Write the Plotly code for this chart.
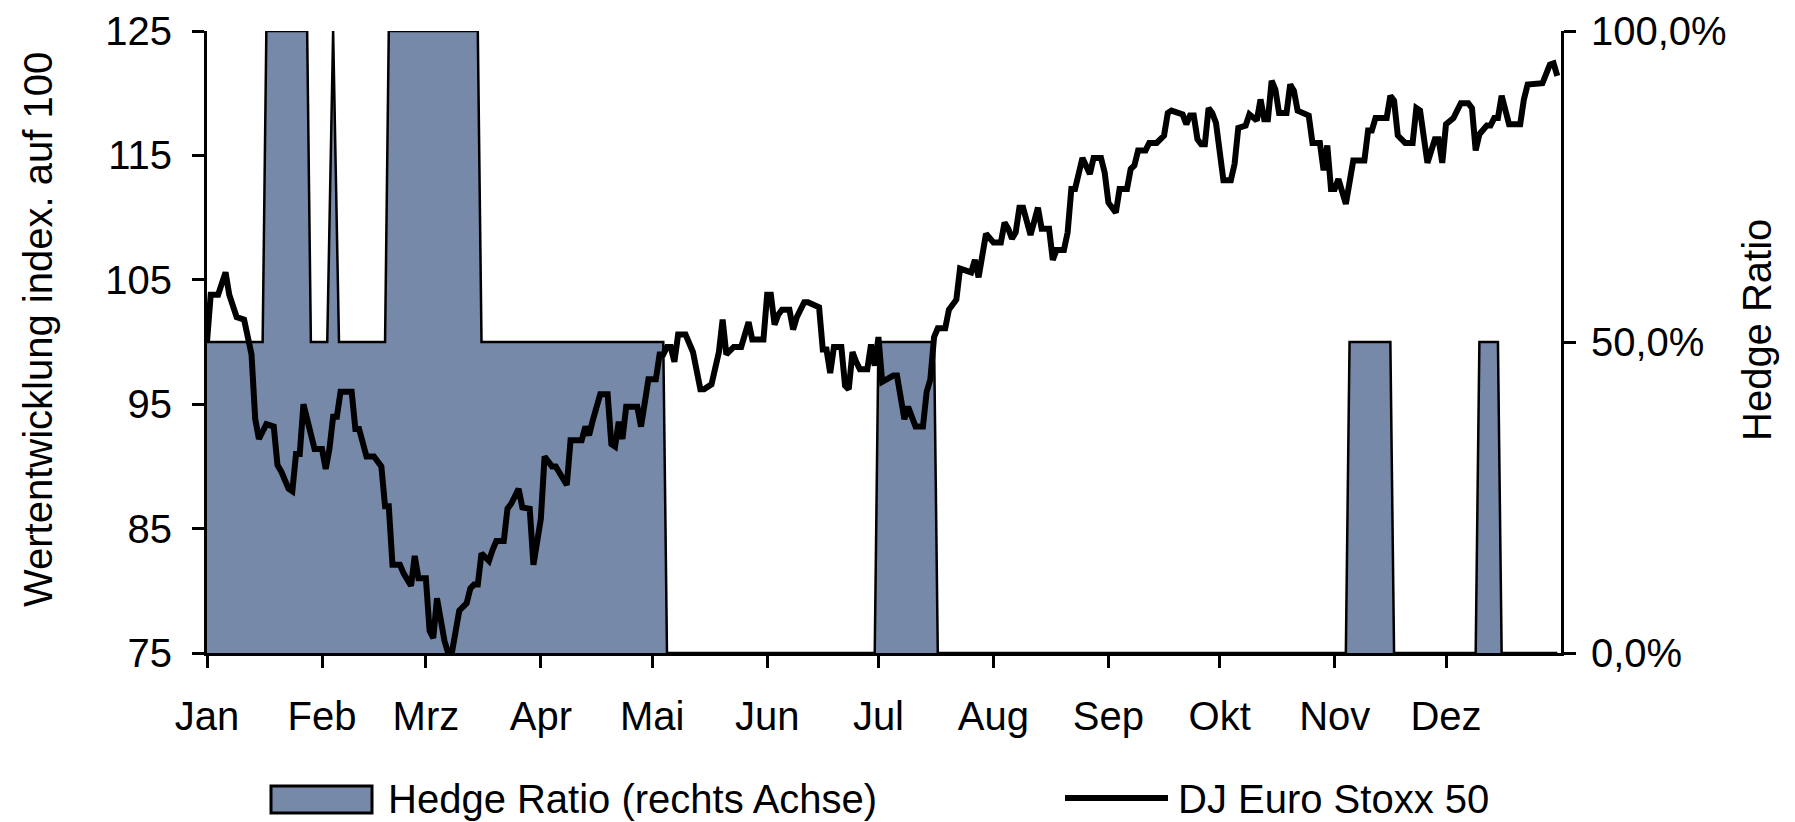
import plotly.graph_objects as go

# ---------------- data ----------------
month_ticks = ["2003-01-01", "2003-02-01", "2003-03-01", "2003-04-01", "2003-05-01", "2003-06-01",
               "2003-07-01", "2003-08-01", "2003-09-01", "2003-10-01", "2003-11-01", "2003-12-01"]
month_labels = ["Jan", "Feb", "Mrz", "Apr", "Mai", "Jun", "Jul", "Aug", "Sep", "Okt", "Nov", "Dez"]

hedge_dates = ["2003-01-01", "2003-01-16", "2003-01-17", "2003-01-28", "2003-01-29",
               "2003-02-02 10:00", "2003-02-04 00:00", "2003-02-05 14:00",
               "2003-02-18", "2003-02-19", "2003-03-15", "2003-03-16",
               "2003-05-04", "2003-05-05", "2003-06-30", "2003-07-01", "2003-07-16", "2003-07-17",
               "2003-11-04", "2003-11-05", "2003-11-16", "2003-11-17",
               "2003-12-09", "2003-12-10", "2003-12-15", "2003-12-16", "2003-12-31"]
hedge_ratio = [0.5, 0.5, 1.0, 1.0, 0.5,
               0.5, 1.0, 0.5,
               0.5, 1.0, 1.0, 0.5,
               0.5, 0.0, 0.0, 0.5, 0.5, 0.0,
               0.0, 0.5, 0.5, 0.0,
               0.0, 0.5, 0.5, 0.0, 0.0]

stoxx_dates = [
    "2003-01-01", "2003-01-02", "2003-01-04", "2003-01-06", "2003-01-07", "2003-01-09", "2003-01-11",
    "2003-01-13", "2003-01-14", "2003-01-15", "2003-01-17", "2003-01-19", "2003-01-20", "2003-01-21",
    "2003-01-23", "2003-01-24", "2003-01-25", "2003-01-26", "2003-01-27", "2003-01-30",
    "2003-02-01", "2003-02-02", "2003-02-03", "2003-02-04", "2003-02-05", "2003-02-06", "2003-02-09",
    "2003-02-10", "2003-02-11", "2003-02-13", "2003-02-15", "2003-02-17", "2003-02-18", "2003-02-19",
    "2003-02-20", "2003-02-22", "2003-02-23", "2003-02-25", "2003-02-26", "2003-02-27",
    "2003-03-01", "2003-03-02", "2003-03-03", "2003-03-04", "2003-03-06", "2003-03-07", "2003-03-08",
    "2003-03-10", "2003-03-12", "2003-03-13", "2003-03-14", "2003-03-15", "2003-03-16", "2003-03-18",
    "2003-03-19", "2003-03-20", "2003-03-22", "2003-03-23", "2003-03-24", "2003-03-26", "2003-03-27",
    "2003-03-29", "2003-03-30", "2003-03-31",
    "2003-04-01", "2003-04-02", "2003-04-04", "2003-04-05", "2003-04-08", "2003-04-09", "2003-04-12",
    "2003-04-13", "2003-04-14", "2003-04-15", "2003-04-17", "2003-04-19", "2003-04-20", "2003-04-21",
    "2003-04-22", "2003-04-23", "2003-04-24", "2003-04-27", "2003-04-28", "2003-04-30",
    "2003-05-02", "2003-05-03", "2003-05-04", "2003-05-05", "2003-05-06", "2003-05-07", "2003-05-08",
    "2003-05-10", "2003-05-12", "2003-05-14", "2003-05-15", "2003-05-17", "2003-05-19", "2003-05-20",
    "2003-05-21", "2003-05-23", "2003-05-25", "2003-05-27", "2003-05-28", "2003-05-31",
    "2003-06-01", "2003-06-02", "2003-06-03", "2003-06-04", "2003-06-05", "2003-06-07", "2003-06-08",
    "2003-06-09", "2003-06-11", "2003-06-12", "2003-06-15", "2003-06-16", "2003-06-17", "2003-06-18",
    "2003-06-19", "2003-06-21", "2003-06-22", "2003-06-23", "2003-06-24", "2003-06-25", "2003-06-26",
    "2003-06-28", "2003-06-29", "2003-06-30",
    "2003-07-01", "2003-07-02", "2003-07-05", "2003-07-06", "2003-07-07", "2003-07-08", "2003-07-09",
    "2003-07-11", "2003-07-13", "2003-07-14", "2003-07-15", "2003-07-16", "2003-07-17", "2003-07-19",
    "2003-07-20", "2003-07-22", "2003-07-23", "2003-07-26", "2003-07-27", "2003-07-28", "2003-07-30",
    "2003-08-01", "2003-08-03", "2003-08-04", "2003-08-05", "2003-08-06", "2003-08-07", "2003-08-08",
    "2003-08-09", "2003-08-11", "2003-08-13", "2003-08-14", "2003-08-16", "2003-08-17", "2003-08-18",
    "2003-08-20", "2003-08-21", "2003-08-22", "2003-08-23", "2003-08-24", "2003-08-25", "2003-08-27",
    "2003-08-28", "2003-08-30", "2003-08-31",
    "2003-09-01", "2003-09-03", "2003-09-04", "2003-09-06", "2003-09-07", "2003-09-08", "2003-09-09",
    "2003-09-11", "2003-09-12", "2003-09-14", "2003-09-16", "2003-09-17", "2003-09-18", "2003-09-21",
    "2003-09-22", "2003-09-23", "2003-09-24", "2003-09-25", "2003-09-26", "2003-09-27", "2003-09-28",
    "2003-09-29", "2003-09-30",
    "2003-10-02", "2003-10-04", "2003-10-05", "2003-10-06", "2003-10-08", "2003-10-09", "2003-10-11",
    "2003-10-12", "2003-10-13", "2003-10-14", "2003-10-15", "2003-10-16", "2003-10-17", "2003-10-19",
    "2003-10-20", "2003-10-21", "2003-10-22", "2003-10-25", "2003-10-26", "2003-10-28", "2003-10-29",
    "2003-10-30", "2003-10-31",
    "2003-11-01", "2003-11-02", "2003-11-04", "2003-11-05", "2003-11-06", "2003-11-09", "2003-11-10",
    "2003-11-11", "2003-11-12", "2003-11-15", "2003-11-16", "2003-11-17", "2003-11-18", "2003-11-20",
    "2003-11-22", "2003-11-23", "2003-11-24", "2003-11-26", "2003-11-28", "2003-11-29", "2003-11-30",
    "2003-12-01", "2003-12-03", "2003-12-05", "2003-12-07", "2003-12-08", "2003-12-09", "2003-12-10",
    "2003-12-12", "2003-12-13", "2003-12-14", "2003-12-15", "2003-12-16", "2003-12-18", "2003-12-21",
    "2003-12-22", "2003-12-23", "2003-12-27", "2003-12-29", "2003-12-30", "2003-12-31",
]
stoxx_values = [
    100.0, 103.8, 103.8, 105.6, 103.8, 102.0, 101.8,
    99.0, 93.8, 92.2, 93.4, 93.2, 90.1, 89.6,
    88.2, 88.0, 91.0, 91.0, 95.0, 91.4,
    91.4, 89.8, 91.4, 94.0, 94.0, 96.0, 96.0,
    93.0, 93.0, 90.8, 90.8, 90.0, 86.8, 86.8,
    82.1, 82.1, 81.4, 80.4, 82.8, 81.0,
    81.0, 76.8, 76.2, 79.4, 76.0, 75.0, 75.0,
    78.4, 79.0, 80.2, 80.5, 80.5, 83.0, 82.4,
    83.3, 84.0, 84.0, 86.6, 87.0, 88.2, 86.7,
    86.6, 82.1, 84.2,
    85.8, 90.8, 90.0, 90.0, 88.5, 92.1, 92.1,
    93.2, 92.5, 93.7, 95.8, 95.8, 91.8, 91.6,
    93.6, 92.2, 94.8, 94.8, 93.2, 97.0,
    97.0, 99.0, 99.0, 99.6, 99.6, 98.4, 100.6,
    100.6, 99.2, 96.2, 96.2, 96.6, 99.2, 101.8,
    99.0, 99.6, 99.6, 101.6, 100.2, 100.2,
    103.8, 103.8, 101.4, 102.2, 102.6, 102.6, 101.0,
    102.0, 103.2, 103.2, 102.8, 99.4, 99.4, 97.5,
    99.6, 99.6, 96.5, 96.2, 99.2, 98.4, 97.8,
    97.8, 99.8, 98.1,
    100.4, 96.8, 97.3, 97.3, 95.4, 93.8, 94.8,
    93.2, 93.2, 96.0, 97.0, 100.4, 101.1, 101.1,
    102.6, 103.4, 105.9, 105.6, 106.6, 105.2, 108.7,
    108.0, 108.0, 109.6, 109.1, 108.3, 108.8, 110.8,
    110.8, 108.6, 110.8, 109.1, 109.1, 106.6, 107.4,
    107.4, 108.8, 112.3, 112.3, 113.6, 114.8, 113.5,
    114.8, 114.8, 113.6,
    111.2, 110.4, 112.3, 112.3, 113.9, 114.2, 115.4,
    115.4, 116.0, 116.0, 116.6, 118.4, 118.6, 118.3,
    117.5, 118.2, 118.2, 116.3, 115.9, 115.9, 118.8,
    118.4, 117.6,
    113.0, 113.0, 114.3, 117.2, 117.4, 118.3, 117.8,
    119.5, 117.9, 117.9, 121.0, 120.3, 118.4, 118.4,
    120.7, 120.2, 118.6, 118.2, 116.0, 116.0, 113.8,
    115.8, 112.3,
    112.3, 113.1, 111.1, 113.1, 114.6, 114.6, 117.0,
    117.0, 118.0, 118.0, 119.8, 119.4, 116.6, 116.0,
    116.0, 118.8, 118.6, 114.4, 116.3, 116.3, 114.4,
    117.5, 118.0, 119.2, 119.2, 118.8, 115.4, 116.7,
    117.4, 117.4, 118.0, 118.0, 119.8, 117.5, 117.5,
    119.5, 120.7, 120.8, 122.3, 122.4, 121.4,
]

left_ticks = [75, 85, 95, 105, 115, 125]
right_ticks = [0.0, 0.5, 1.0]

legend_hedge = "Hedge Ratio (rechts Achse)"
legend_stoxx = "DJ Euro Stoxx 50"
left_title = "Wertentwicklung index. auf 100"
right_title = "Hedge Ratio"

# ---------------- layout geometry ----------------
# the html body has an 8px margin: the figure starts at page pixel (8, 8)
# and is sized to reach the bottom-right corner of the 1795x822 window.
OFF = 8
W, H = 1795 - OFF, 822 - OFF
L, R, T, B = 207 - OFF, 1561 - OFF, 31 - OFF, 653 - OFF   # plot area in figure pixels
FONT = "Liberation Sans, Arial, sans-serif"
FS = 40
FILL = "#7789A8"


def px(xp):
    """page x pixel -> paper coordinate"""
    return (xp - OFF - L) / (R - L)


def py(yp):
    """page y pixel -> paper coordinate"""
    return (B - (yp - OFF)) / (B - T)


fig = go.Figure()
fig.add_trace(go.Scatter(
    x=hedge_dates, y=hedge_ratio, mode="lines", fill="tozeroy",
    fillcolor=FILL, line=dict(color="black", width=2.5), yaxis="y",
    name=legend_hedge, showlegend=False))
fig.add_trace(go.Scatter(
    x=stoxx_dates, y=stoxx_values, mode="lines",
    line=dict(color="black", width=6), yaxis="y2",
    name=legend_stoxx, showlegend=False))

axis_common = dict(showline=True, linecolor="black", linewidth=3, ticks="outside",
                   ticklen=12, tickwidth=2.5, tickcolor="black", showgrid=False,
                   zeroline=False, automargin=False, ticklabeloverflow="allow",
                   tickfont=dict(family=FONT, size=FS, color="black"))

fig.update_layout(
    template="none",
    width=W, height=H,
    margin=dict(l=L, r=W - R, t=T, b=H - B, pad=0, autoexpand=False),
    paper_bgcolor="white", plot_bgcolor="white",
    separators=",.",
    font=dict(family=FONT, size=FS, color="black"),
    xaxis=dict(type="date", range=["2003-01-01", "2004-01-01"],
               tickvals=month_ticks, ticktext=month_labels,
               ticklabelstandoff=14, **axis_common),
    yaxis=dict(side="right", range=[0, 1], tickvals=right_ticks, tickformat=".1%",
               ticklabelstandoff=7, **axis_common),
    yaxis2=dict(side="left", overlaying="y", range=[75, 125], tickvals=left_ticks,
                ticklabelstandoff=12, **axis_common),
    showlegend=False,
)

# axis titles
fig.add_annotation(text=left_title, xref="paper", yref="paper", x=px(38), y=py(330),
                   textangle=-90, showarrow=False, xanchor="center", yanchor="middle",
                   font=dict(family=FONT, size=FS, color="black"))
fig.add_annotation(text=right_title, xref="paper", yref="paper", x=px(1757), y=py(330),
                   textangle=-90, showarrow=False, xanchor="center", yanchor="middle",
                   font=dict(family=FONT, size=FS, color="black"))

# custom legend
fig.add_shape(type="rect", xref="paper", yref="paper",
              x0=px(271), x1=px(372), y0=py(786), y1=py(813),
              fillcolor=FILL, line=dict(color="black", width=3))
fig.add_annotation(text=legend_hedge, xref="paper", yref="paper", x=px(386), y=py(799),
                   showarrow=False, xanchor="left", yanchor="middle",
                   font=dict(family=FONT, size=FS, color="black"))
fig.add_shape(type="line", xref="paper", yref="paper",
              x0=px(1065), x1=px(1168), y0=py(798), y1=py(798),
              line=dict(color="black", width=6))
fig.add_annotation(text=legend_stoxx, xref="paper", yref="paper", x=px(1176), y=py(799),
                   showarrow=False, xanchor="left", yanchor="middle",
                   font=dict(family=FONT, size=FS, color="black"))

fig.write_html("out.html")
